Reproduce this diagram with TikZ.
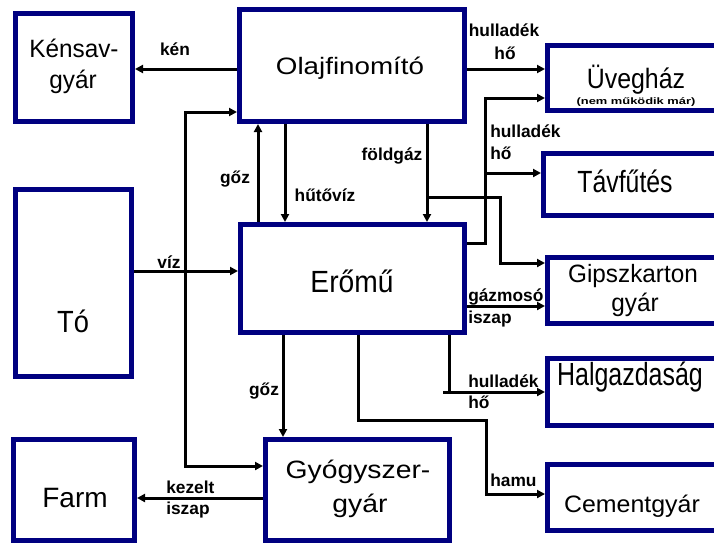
\documentclass[tikz,border=0pt]{standalone}
\usepackage{fontspec}
\setmainfont{Liberation Sans}
\usetikzlibrary{arrows.meta}
\definecolor{navy}{HTML}{000080}
\newcommand\bt[3]{\scalebox{#2}[1]{\fontsize{#1}{#1}\selectfont #3}}
\begin{document}
\begin{tikzpicture}[x=0.75pt,y=-0.75pt,
  box/.style={draw=navy,line width=3.75pt,rectangle,inner sep=0pt},
  conn/.style={line width=2.25pt,-{Triangle[length=6pt,width=6pt]}},
  wire/.style={line width=2.25pt},
  lbl/.style={inner sep=0pt,anchor=base},
  elbl/.style={inner sep=0pt,font=\bfseries\fontsize{13}{15}\selectfont},
]
\useasboundingbox (0,0) rectangle (714,544);
\clip (0,0) rectangle (714,544);
% boxes
\node[box,minimum width=87.75pt,minimum height=81pt] (ken) at (74,67.5) {};
\node[box,minimum width=168.75pt,minimum height=84pt] (olaj) at (352,65.5) {};
\node[box,minimum width=172.5pt,minimum height=48.75pt] (uveg) at (662.5,78) {};
\node[box,minimum width=175.5pt,minimum height=46.5pt] (tav) at (660.5,184.5) {};
\node[box,minimum width=87pt,minimum height=140.25pt] (to) at (73.5,283) {};
\node[box,minimum width=168pt,minimum height=81pt] (eromu) at (352.5,278.5) {};
\node[box,minimum width=172.5pt,minimum height=49.5pt] (gipsz) at (662.5,290.5) {};
\node[box,minimum width=172.5pt,minimum height=50.25pt] (hal) at (662.5,392) {};
\node[box,minimum width=172.5pt,minimum height=49.5pt] (cement) at (662.5,497.5) {};
\node[box,minimum width=138pt,minimum height=75.75pt] (gyogy) at (357.5,490) {};
\node[box,minimum width=90.75pt,minimum height=75.75pt] (farm) at (74,490) {};
% box texts
\node[lbl] (olajT) at (350,74) {\bt{17.8}{1.17}{Olajfinomító}};
\node[lbl] (kenT1) at (74,57) {\bt{18.8}{0.97}{Kénsav-}};
\node[lbl] (kenT2) at (73,88) {\bt{18.8}{0.97}{gyár}};
\node[lbl] (uvegT) at (636,88) {\bt{21}{0.89}{Üvegház}};
\node[inner sep=0pt] (uvegN) at (636,102) {\scalebox{1.38}[1]{\bfseries\fontsize{7}{8}\selectfont (nem működik már)}};
\node[lbl] (tavT) at (625,192) {\bt{23}{0.81}{Távfűtés}};
\node[lbl] (toT) at (73,332) {\bt{23}{0.89}{Tó}};
\node[lbl] (eromuT) at (352,292) {\bt{23}{0.92}{Erőmű}};
\node[lbl] (gipszT1) at (633,282) {\bt{18.8}{0.97}{Gipszkarton}};
\node[lbl] (gipszT2) at (635,311) {\bt{18.8}{0.97}{gyár}};
\node[lbl] (halT) at (630,385) {\bt{24}{0.78}{Halgazdaság}};
\node[lbl] (cementT) at (632,512) {\bt{17.8}{1.05}{Cementgyár}};
\node[lbl] (gyogyT1) at (358,478) {\bt{18.8}{1.13}{Gyógyszer-}};
\node[lbl] (gyogyT2) at (360,512) {\bt{18.8}{1.13}{gyár}};
\node[lbl] (farmT) at (75,507) {\bt{21}{1.0}{Farm}};
% connectors
\draw[conn] (olaj.west |- 0,69) -- (ken.east |- 0,69);
\draw[conn] (to.east |- 0,271) -- (eromu.west |- 0,271);
\coordinate (j) at (185,271);
\draw[conn] (j) |- (olaj.west |- 0,112);
\draw[conn] (j) |- (gyogy.west |- 0,466);
\draw[conn] (eromu.north -| 258,0) -- (olaj.south -| 258,0);
\draw[conn] (olaj.south -| 285,0) -- (eromu.north -| 285,0);
\draw[conn] (olaj.south -| 427,0) -- (eromu.north -| 427,0);
\coordinate (fg) at (427,197);
\draw[conn] (fg) -| (500,263) -- (gipsz.west |- 0,263);
\draw[conn] (olaj.east |- 0,69) -- (uveg.west |- 0,69);
\coordinate (hb) at (485,173);
\draw[conn] (eromu.east |- 0,243) -| (485,98) -- (uveg.west |- 0,98);
\draw[conn] (hb) -- (tav.west |- 0,173);
\draw[conn] (eromu.east |- 0,306) -- (gipsz.west |- 0,306);
\draw[wire] (eromu.south -| 449,0) -- (449,392);
\draw[conn] (443,392) -- (hal.west |- 0,392);
\draw[conn] (eromu.south -| 358,0) |- (486,420) |- (cement.west |- 0,494);
\draw[conn] (eromu.south -| 283,0) -- (gyogy.north -| 283,0);
\draw[conn] (gyogy.west |- 0,498) -- (farm.east |- 0,498);
% edge labels
\node[elbl,anchor=base] (kenL) at (175,55) {kén};
\node[elbl,anchor=base] (vizL) at (169,268) {víz};
\node[elbl,anchor=base] (goz1L) at (235,183) {gőz};
\node[elbl,anchor=base] (hutoL) at (325,201) {hűtővíz};
\node[elbl,anchor=base] (fgL) at (392,160) {földgáz};
\node[elbl,anchor=base] (hh1a) at (504,36) {hulladék};
\node[elbl,anchor=base] (hh1b) at (505,59) {hő};
\node[elbl,anchor=base west] (hh2a) at (490,137) {hulladék};
\node[elbl,anchor=base west] (hh2b) at (490,159) {hő};
\node[elbl,anchor=base west] (gmL1) at (468,301) {gázmosó};
\node[elbl,anchor=base west] (gmL2) at (468,323) {iszap};
\node[elbl,anchor=base west] (hh3a) at (468,387) {hulladék};
\node[elbl,anchor=base west] (hh3b) at (468,408) {hő};
\node[elbl,anchor=base west] (hamuL) at (490,486) {hamu};
\node[elbl,anchor=base] (goz2L) at (264,395) {gőz};
\node[elbl,anchor=base west] (kezL1) at (166,493) {kezelt};
\node[elbl,anchor=base west] (kezL2) at (166,514) {iszap};
\end{tikzpicture}
\end{document}
